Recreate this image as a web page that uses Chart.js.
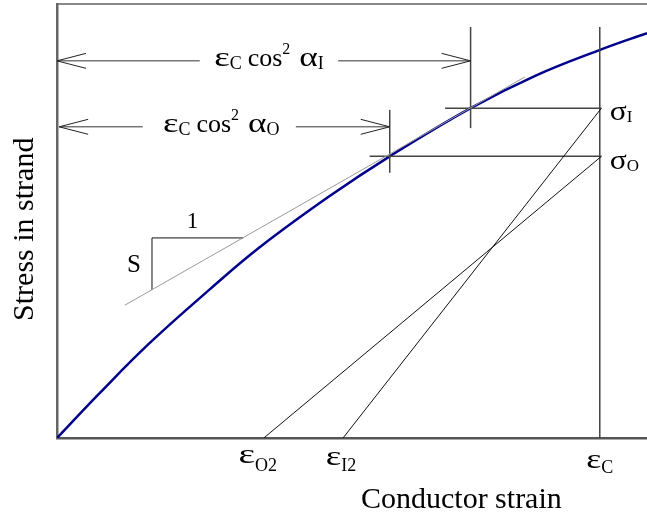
<!DOCTYPE html>
<html>
<head>
<meta charset="utf-8">
<script src="https://cdn.jsdelivr.net/npm/chart.js@4"></script>
<style>
  html, body { margin: 0; padding: 0; background: #fff; }
  canvas { display: block; }
</style>
</head>
<body>
<canvas id="grafico" width="647" height="517"></canvas>
<script>
// Curva tensão x deformação (unidades arbitrárias, epsC = 100)
const curveStrain = [0, 7.9, 17.1, 28.2, 37.4, 50.3, 61.3, 76.2, 88, 100.4, 108.7];
const curveStress = [0, 10.4, 21.9, 34.3, 44.0, 55.8, 64.9, 76.0, 83.4, 89.6, 93.3];

// Tangente (cinza) e triângulo de inclinação
const tangentStrain = [12.5, 86.2];
const tangentStress = [30.6, 83.2];
const slopeStrain = [17.5, 17.5, 34.3];
const slopeStress = [34.1, 46.1, 46.1];

// Valores característicos
const epsC = 100;
const epsO2 = 38.1;
const epsI2 = 52.7;
const sigmaO = 64.9;
const sigmaI = 76.0;
const epsTanO = 61.3;
const epsTanI = 76.2;

// Cotas com setas
const arrowIStress = 86.9;
const arrowOStress = 71.7;
const arrowIGap = [26.3, 51.8];
const arrowOGap = [15.8, 44.0];

const xMax = 108.7;
const yMax = 100;

function seg(xs, ys) {
  return xs.map((x, i) => ({ x: x, y: ys[i] }));
}

function linha(xs, ys, cor, largura) {
  return {
    data: seg(xs, ys),
    showLine: true,
    pointRadius: 0,
    borderColor: cor,
    borderWidth: largura,
    fill: false,
    tension: 0
  };
}

const fonte = '"Liberation Serif", "Times New Roman", serif';

// Textos: t = texto, k = sub/sup, s = tamanho próprio, w = largura alvo, gap = espaço extra
const formulaI = [{ t: 'ε', s: 27, w: 15.5 }, { t: 'C', k: 'sub' }, { gap: 6 }, { t: 'cos' }, { t: '2', k: 'sup' }, { gap: 9 }, { t: 'α', s: 27, w: 18.5 }, { t: 'I', k: 'sub' }];
const formulaO = [{ t: 'ε', s: 27, w: 15.5 }, { t: 'C', k: 'sub' }, { gap: 6 }, { t: 'cos' }, { t: '2', k: 'sup' }, { gap: 9 }, { t: 'α', s: 27, w: 18.5 }, { t: 'O', k: 'sub' }];

const rotulos = [
  { x: (arrowIGap[0] + arrowIGap[1]) / 2, y: arrowIStress, dy: 5, align: 'center', size: 26, sub: 18, subOff: 3, sup: 16, supOff: -12, parts: formulaI },
  { x: (arrowOGap[0] + arrowOGap[1]) / 2, y: arrowOStress, dx: 2, dy: 5, align: 'center', size: 26, sub: 18, subOff: 3, sup: 16, supOff: -12, parts: formulaO },
  { x: epsC, y: sigmaI, dx: 10, dy: 12, align: 'left', size: 26, sub: 17, subOff: 2, parts: [{ t: 'σ', s: 27, w: 17 }, { t: 'I', k: 'sub' }] },
  { x: epsC, y: sigmaO, dx: 10, dy: 13, align: 'left', size: 26, sub: 17, subOff: 2, parts: [{ t: 'σ', s: 27, w: 17 }, { t: 'O', k: 'sub' }] },
  { x: epsO2, y: 0, dx: -6, dy: 25, align: 'center', size: 24, sub: 18, subOff: 8, parts: [{ t: 'ε', s: 27, w: 16.5 }, { t: 'O2', k: 'sub' }] },
  { x: epsI2, y: 0, dx: -2, dy: 27, align: 'center', size: 24, sub: 18, subOff: 6, parts: [{ t: 'ε', s: 27, w: 15.5 }, { t: 'I2', k: 'sub' }] },
  { x: epsC, y: 0, dx: 0, dy: 30, align: 'center', size: 24, sub: 18, subOff: 5, parts: [{ t: 'ε', s: 27, w: 15 }, { t: 'C', k: 'sub' }] },
  { x: 24.95, y: slopeStress[1], dy: -10, align: 'center', size: 23, parts: [{ t: '1' }] },
  { x: slopeStrain[0], y: (slopeStress[0] + slopeStress[1]) / 2, dx: -18, dy: 8, align: 'center', size: 25, parts: [{ t: 'S' }] },
  { x: 74.5, y: 0, dy: 70, align: 'center', size: 30, parts: [{ t: 'Conductor strain' }] }
];

const setas = [
  { x: 0, y: arrowIStress, dir: -1 },
  { x: epsTanI, y: arrowIStress, dir: 1 },
  { x: 0.4, y: arrowOStress, dir: -1 },
  { x: epsTanO, y: arrowOStress, dir: 1 }
];

function desenhaRico(ctx, x, y, r) {
  const itens = r.parts.map(p => {
    if (p.gap) return { gap: p.gap, w: p.gap };
    const s = p.s || (p.k === 'sub' ? r.sub : p.k === 'sup' ? r.sup : r.size);
    ctx.font = s + 'px ' + fonte;
    const larg = ctx.measureText(p.t).width;
    const sx = p.w ? p.w / larg : 1;
    let off = 0;
    if (p.k === 'sub') off = r.subOff;
    if (p.k === 'sup') off = r.supOff;
    return { t: p.t, s: s, sx: sx, w: larg * sx, off: off };
  });
  const total = itens.reduce((a, b) => a + b.w, 0);
  let cx = r.align === 'center' ? x - total / 2 : x;
  itens.forEach(it => {
    if (!it.gap) {
      ctx.save();
      ctx.font = it.s + 'px ' + fonte;
      ctx.translate(cx, y + it.off);
      ctx.scale(it.sx, 1);
      ctx.fillText(it.t, 0, 0);
      ctx.restore();
    }
    cx += it.w;
  });
}

const anotacoes = {
  id: 'anotacoes',
  afterDatasetsDraw(chart) {
    const ctx = chart.ctx;
    const xs = chart.scales.x;
    const ys = chart.scales.y;
    ctx.save();
    // pontas das setas
    ctx.strokeStyle = '#222';
    ctx.lineWidth = 1;
    setas.forEach(s => {
      const px = xs.getPixelForValue(s.x);
      const py = ys.getPixelForValue(s.y);
      ctx.beginPath();
      ctx.moveTo(px - s.dir * 29, py - 7.5);
      ctx.lineTo(px, py);
      ctx.lineTo(px - s.dir * 29, py + 7.5);
      ctx.stroke();
    });
    // textos
    ctx.fillStyle = '#000';
    ctx.textBaseline = 'alphabetic';
    ctx.textAlign = 'left';
    rotulos.forEach(r => {
      const px = xs.getPixelForValue(r.x) + (r.dx || 0);
      const py = ys.getPixelForValue(r.y) + (r.dy || 0);
      desenhaRico(ctx, px, py, r);
    });
    // título do eixo y
    ctx.translate(chart.chartArea.left - 24, ys.getPixelForValue(48.1));
    ctx.rotate(-Math.PI / 2);
    ctx.textAlign = 'center';
    ctx.font = '30px ' + fonte;
    ctx.fillText('Stress in strand', 0, 0);
    ctx.restore();
  }
};

const eixoSemMarcas = (cor, largura, pos) => ({
  type: 'linear',
  position: pos,
  min: 0,
  ticks: { display: false },
  grid: { display: false, drawTicks: false },
  border: { display: true, color: cor, width: largura },
  title: { display: false }
});

new Chart(document.getElementById('grafico').getContext('2d'), {
  type: 'scatter',
  data: {
    datasets: [
      linha(tangentStrain, tangentStress, '#999', 1),
      linha(slopeStrain, slopeStress, '#111', 1),
      linha([epsO2, epsC + 0.3], [0, sigmaO], '#111', 1),
      linha([epsI2, epsC + 0.3], [0, sigmaI], '#111', 1),
      linha([57.6, epsC + 0.3], [sigmaO, sigmaO], '#444', 1.5),
      linha([71.5, epsC + 0.3], [sigmaI, sigmaI], '#444', 1.5),
      linha([epsTanO, epsTanO], [61.1, 75.6], '#444', 1.5),
      linha([epsTanI, epsTanI], [71.4, 94.7], '#444', 1.5),
      linha([epsC, epsC], [0, 94.7], '#444', 1.5),
      linha([0, arrowIGap[0]], [arrowIStress, arrowIStress], '#333', 1),
      linha([arrowIGap[1], epsTanI], [arrowIStress, arrowIStress], '#333', 1),
      linha([0.4, arrowOGap[0]], [arrowOStress, arrowOStress], '#333', 1),
      linha([arrowOGap[1], epsTanO], [arrowOStress, arrowOStress], '#333', 1),
      Object.assign(linha(curveStrain, curveStress, '#00008b', 2.5), { tension: 0.4 })
    ]
  },
  options: {
    responsive: false,
    animation: false,
    devicePixelRatio: 1,
    layout: { padding: { left: 57, top: 4, right: 0, bottom: 79 } },
    scales: {
      x: Object.assign(eixoSemMarcas('#555', 2.5, 'bottom'), { max: xMax }),
      xTop: Object.assign(eixoSemMarcas('#888', 2, 'top'), { max: xMax, display: true }),
      y: Object.assign(eixoSemMarcas('#666', 2.5, 'left'), { max: yMax })
    },
    plugins: {
      legend: { display: false },
      tooltip: { enabled: false }
    }
  },
  plugins: [anotacoes]
});
</script>
</body>
</html>
